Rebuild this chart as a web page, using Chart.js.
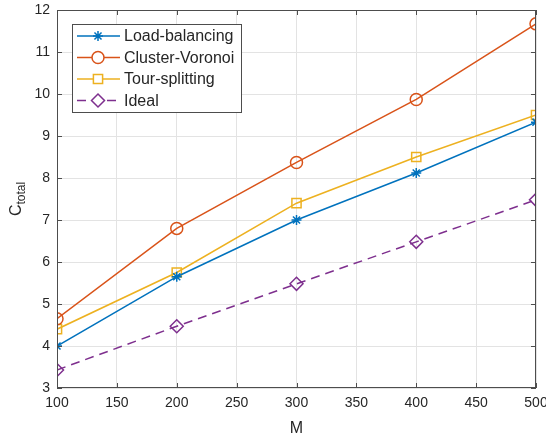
<!DOCTYPE html>
<html>
<head>
<meta charset="utf-8">
<script src="https://cdn.jsdelivr.net/npm/chart.js@4"></script>
<style>
  html, body { margin: 0; padding: 0; background: #fff; }
  #wrap { width: 546px; height: 438px; }
</style>
</head>
<body>
<div id="wrap"><canvas id="myChart" width="546" height="438"></canvas></div>
<script>
const mValues = [100, 200, 300, 400, 500];
const loadBalancing = [4.0, 5.65, 7.0, 8.12, 9.33];
const clusterVoronoi = [4.65, 6.8, 8.37, 9.87, 11.67];
const tourSplitting = [4.4, 5.75, 7.4, 8.5, 9.5];
const ideal = [3.43, 4.47, 5.48, 6.48, 7.48];

const seriesNames = ['Load-balancing', 'Cluster-Voronoi', 'Tour-splitting', 'Ideal'];
const xTitle = 'M';

const axisColor = '#4d4d4d';
const textColor = '#262626';
const fontFamily = 'Arial, "Liberation Sans", Helvetica, sans-serif';

function toPoints(values) {
    return mValues.map((m, i) => ({ x: m, y: values[i] }));
}

// frame, inward ticks, legend and axis titles, MATLAB style
const matlabAxes = {
    id: 'matlabAxes',
    afterDraw(chart) {
        const ctx = chart.ctx;
        const area = chart.chartArea;
        const xs = chart.scales.x;
        const ys = chart.scales.y;
        const tick = 5;

        ctx.save();
        ctx.strokeStyle = axisColor;
        ctx.lineWidth = 1;
        ctx.strokeRect(area.left + 0.5, area.top + 0.5, area.right - area.left - 1, area.bottom - area.top - 1);

        ctx.beginPath();
        xs.ticks.forEach(t => {
            const px = Math.round(xs.getPixelForValue(t.value)) + 0.5;
            ctx.moveTo(px, area.bottom);
            ctx.lineTo(px, area.bottom - tick);
            ctx.moveTo(px, area.top);
            ctx.lineTo(px, area.top + tick);
        });
        ys.ticks.forEach(t => {
            const py = Math.round(ys.getPixelForValue(t.value)) + 0.5;
            ctx.moveTo(area.left, py);
            ctx.lineTo(area.left + tick, py);
            ctx.moveTo(area.right, py);
            ctx.lineTo(area.right - tick, py);
        });
        ctx.stroke();

        // axis titles
        ctx.fillStyle = textColor;
        ctx.font = '16px ' + fontFamily;
        ctx.textAlign = 'center';
        ctx.textBaseline = 'alphabetic';
        ctx.fillText(xTitle, (area.left + area.right) / 2, 433);

        ctx.translate(21, (area.top + area.bottom) / 2);
        ctx.rotate(-Math.PI / 2);
        ctx.textAlign = 'left';
        ctx.font = '16px ' + fontFamily;
        const wC = ctx.measureText('C').width;
        ctx.font = '12px ' + fontFamily;
        const wSub = ctx.measureText('total').width;
        const start = -(wC + wSub) / 2;
        ctx.font = '16px ' + fontFamily;
        ctx.fillText('C', start, 0);
        ctx.font = '12px ' + fontFamily;
        ctx.fillText('total', start + wC, 4);
        ctx.restore();

        // legend
        ctx.save();
        const lx = 72, ly = 24, lw = 169, lh = 88;
        ctx.fillStyle = '#fff';
        ctx.fillRect(lx, ly, lw, lh);
        ctx.strokeStyle = axisColor;
        ctx.lineWidth = 1;
        ctx.strokeRect(lx + 0.5, ly + 0.5, lw, lh);
        chart.data.datasets.forEach((ds, i) => {
            const cy = ly + 12 + i * 21.5;
            ctx.strokeStyle = ds.borderColor;
            ctx.lineWidth = ds.borderWidth;
            ctx.setLineDash(ds.borderDash || []);
            ctx.beginPath();
            ctx.moveTo(lx + 5, cy);
            ctx.lineTo(lx + 48, cy);
            ctx.stroke();
            ctx.setLineDash([]);
            ctx.fillStyle = '#fff';
            Chart.helpers.drawPoint(ctx, {
                pointStyle: ds.pointStyle,
                radius: ds.pointRadius,
                rotation: ds.pointRotation || 0,
                borderWidth: ds.borderWidth
            }, lx + 26, cy);
            ctx.fillStyle = textColor;
            ctx.font = '16px ' + fontFamily;
            ctx.textAlign = 'left';
            ctx.textBaseline = 'middle';
            ctx.fillText(ds.label, lx + 52, cy + 1);
        });
        ctx.restore();
    }
};

const ctx = document.getElementById('myChart');
const myChart = new Chart(ctx, {
    type: 'line',
    data: {
        datasets: [{
            label: seriesNames[0],
            data: toPoints(loadBalancing),
            borderColor: '#0072BD',
            borderWidth: 1.5,
            pointStyle: 'star',
            pointRadius: 5,
            pointBorderColor: '#0072BD',
            pointBackgroundColor: 'transparent'
        }, {
            label: seriesNames[1],
            data: toPoints(clusterVoronoi),
            borderColor: '#D95319',
            borderWidth: 1.5,
            pointStyle: 'circle',
            pointRadius: 6,
            pointBorderColor: '#D95319',
            pointBackgroundColor: 'transparent'
        }, {
            label: seriesNames[2],
            data: toPoints(tourSplitting),
            borderColor: '#EDB120',
            borderWidth: 1.5,
            pointStyle: 'rect',
            pointRadius: 6.5,
            pointBorderColor: '#EDB120',
            pointBackgroundColor: 'transparent'
        }, {
            label: seriesNames[3],
            data: toPoints(ideal),
            borderColor: '#7E2F8E',
            borderWidth: 1.5,
            borderDash: [9, 6],
            pointStyle: 'rectRot',
            pointRadius: 6.5,
            pointBorderColor: '#7E2F8E',
            pointBackgroundColor: 'transparent'
        }]
    },
    options: {
        responsive: false,
        animation: false,
        devicePixelRatio: 1,
        layout: { padding: { top: 10, right: 10, left: 0, bottom: 0 } },
        plugins: {
            legend: { display: false },
            tooltip: { enabled: false }
        },
        scales: {
            x: {
                type: 'linear',
                min: 100,
                max: 500,
                border: { display: false },
                grid: { color: '#e3e3e3', drawTicks: false },
                ticks: {
                    stepSize: 50,
                    color: textColor,
                    font: { family: fontFamily, size: 14 },
                    padding: 7,
                    maxRotation: 0,
                    autoSkip: false
                },
                afterFit(scale) {
                    scale.height = 50;
                    scale.paddingLeft = 0;
                    scale.paddingRight = 0;
                }
            },
            y: {
                min: 3,
                max: 12,
                border: { display: false },
                grid: { color: '#e3e3e3', drawTicks: false },
                ticks: {
                    stepSize: 1,
                    color: textColor,
                    font: { family: fontFamily, size: 14 },
                    padding: 7
                },
                afterFit(scale) {
                    scale.width = 57;
                    scale.paddingTop = 0;
                    scale.paddingBottom = 0;
                }
            }
        }
    },
    plugins: [matlabAxes]
});
</script>
</body>
</html>
